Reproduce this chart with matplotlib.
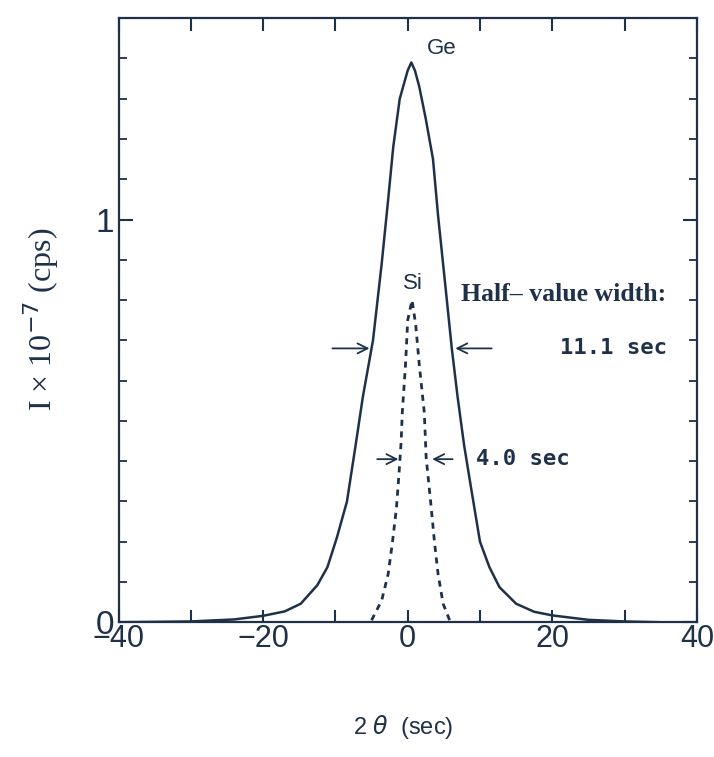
import matplotlib
matplotlib.use("Agg")
import matplotlib.pyplot as plt
from matplotlib.ticker import MultipleLocator, FixedLocator, FuncFormatter

# ---- data ----
ge_x = [-40, -30, -24, -20, -17, -14.8, -12.5, -11.1, -9.8, -8.4, -7.2, -6.2, -4.8, -3.6,
        -2.7, -2.0, -1.1, 0.0, 0.5, 1.0, 1.6, 2.5, 3.5, 4.2, 5.3, 6.1, 6.9, 7.8, 8.8,
        10.0, 11.3, 12.7, 15.0, 17.5, 20, 25, 30, 35, 40]
ge_y = [0.0, 0.002, 0.007, 0.016, 0.027, 0.046, 0.092, 0.137, 0.21, 0.30, 0.44, 0.56, 0.70, 0.89,
        1.05, 1.18, 1.30, 1.37, 1.39, 1.37, 1.33, 1.25, 1.15, 1.01, 0.82, 0.68, 0.56, 0.44, 0.33,
        0.20, 0.137, 0.087, 0.046, 0.026, 0.017, 0.006, 0.002, 0.0, 0.0]

si_x = [-5.0, -3.6, -2.7, -2.1, -1.55, -1.2, -0.9, -0.75, -0.3, 0.0, 0.6, 1.1, 1.6, 2.3,
        2.55, 3.25, 3.7, 4.2, 4.9, 5.8]
si_y = [0.005, 0.054, 0.12, 0.20, 0.285, 0.37, 0.45, 0.52, 0.64, 0.75, 0.80, 0.74, 0.64, 0.52,
        0.41, 0.285, 0.20, 0.12, 0.046, 0.005]

x_ticks = [-40, -30, -20, -10, 0, 10, 20, 30, 40]
x_labeled = [-40, -20, 0, 20, 40]
y_major = [0, 1]

ge_fwhm_y = 0.68
ge_fwhm_left, ge_fwhm_right = -4.9, 6.2
si_fwhm_y = 0.405
si_fwhm_left, si_fwhm_right = -0.9, 3.0

ink = "#1f3149"

fig = plt.figure(figsize=(7.14, 7.57), dpi=100)
ax = fig.add_axes([0.166, 0.178, 0.81, 0.798])

ax.plot(ge_x, ge_y, color=ink, lw=1.8, solid_joinstyle="round")
ax.plot(si_x, si_y, color=ink, lw=2.0, linestyle=(0, (2.2, 2.0)))

ax.set_xlim(-40, 40)
ax.set_ylim(0, 1.5)

ax.xaxis.set_major_locator(FixedLocator(x_ticks))
ax.xaxis.set_major_formatter(FuncFormatter(
    lambda v, p: (f"{int(v)}".replace("-", "\u2212") if int(round(v)) in x_labeled else "")))
ax.yaxis.set_major_locator(FixedLocator(y_major))
ax.yaxis.set_minor_locator(MultipleLocator(0.1))
ax.yaxis.set_major_formatter(FuncFormatter(lambda v, p: f"{int(round(v))}"))

ax.tick_params(which="both", direction="in", top=True, right=True, colors=ink)
ax.tick_params(axis="x", which="major", length=9, width=1.5, pad=1, labelsize=22)
ax.tick_params(axis="y", which="major", length=10, width=1.5, pad=3, labelsize=24)
ax.tick_params(axis="y", which="minor", length=6, width=1.3)
for lab in ax.get_xticklabels() + ax.get_yticklabels():
    lab.set_fontfamily("Liberation Sans")
    lab.set_color(ink)
for s in ax.spines.values():
    s.set_linewidth(1.6)
    s.set_color(ink)

# annotations
ax.text(2.7, 1.425, "Ge", fontsize=16, family="Liberation Sans", color=ink, va="center")
ax.text(0.7, 0.84, "Si", fontsize=16, family="Liberation Sans", color=ink, va="center", ha="center")
ax.text(7.4, 0.815, "Half\u2012 value width:", fontsize=18.5, family="Liberation Serif",
        fontweight="bold", color=ink, va="center")
ax.text(35.8, 0.68, "11.1 sec", fontsize=16, family="DejaVu Sans Mono", fontweight="bold",
        color=ink, va="center", ha="right")
ax.text(9.5, 0.405, "4.0 sec", fontsize=16, family="DejaVu Sans Mono", fontweight="bold",
        color=ink, va="center", ha="left")

arrow = dict(arrowstyle="->", color=ink, lw=1.3, mutation_scale=18)
ax.annotate("", xy=(ge_fwhm_left, ge_fwhm_y), xytext=(-10.8, ge_fwhm_y), arrowprops=arrow)
ax.annotate("", xy=(ge_fwhm_right, ge_fwhm_y), xytext=(12.0, ge_fwhm_y), arrowprops=arrow)
ax.annotate("", xy=(si_fwhm_left, si_fwhm_y), xytext=(-4.6, si_fwhm_y), arrowprops=arrow)
ax.annotate("", xy=(si_fwhm_right, si_fwhm_y), xytext=(6.6, si_fwhm_y), arrowprops=arrow)

fig.text(0.058, 0.578, "I \u00d7 10$^{-7}$ (cps)", rotation=90, fontsize=23,
         family="Liberation Serif", color=ink, ha="center", va="center")
fig.text(0.565, 0.039, "2 $\\theta$  (sec)", fontsize=17, family="Liberation Sans",
         color=ink, ha="center", va="center")

fig.savefig("out.png", dpi=100)
